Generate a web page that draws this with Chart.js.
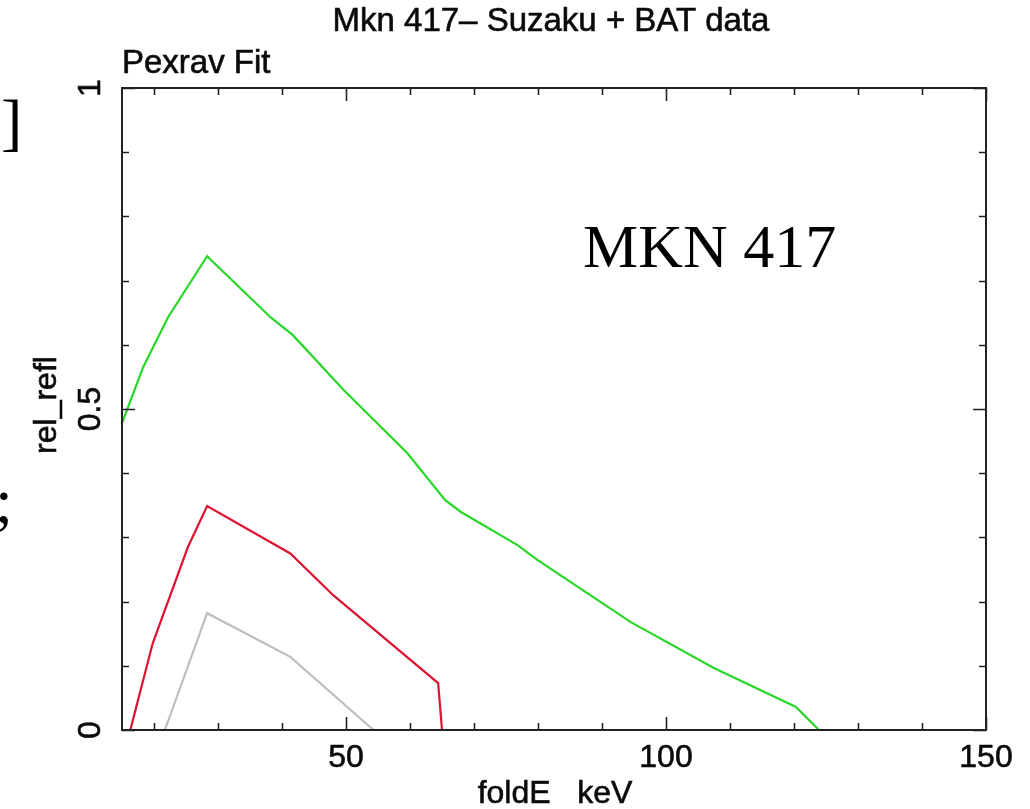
<!DOCTYPE html>
<html>
<head>
<meta charset="utf-8">
<title>Mkn 417 - Suzaku + BAT data</title>
<script src="https://cdn.jsdelivr.net/npm/chart.js@4"></script>
<style>
  html, body { margin: 0; padding: 0; background: #ffffff; }
  #wrap { width: 1030px; height: 809px; position: relative; }
</style>
</head>
<body>
<div id="wrap"><canvas id="c" width="1030" height="809"></canvas></div>
<script>
// Contours of rel_refl versus fold energy (keV)
const greenE = [15, 18.3, 22.2, 28.3, 38.2, 41.7, 49.6, 59.6, 65.5, 67.9, 76.8, 79.9, 94.5, 107.4, 120.3, 123.9];
const greenR = [0.478, 0.565, 0.643, 0.738, 0.643, 0.615, 0.530, 0.431, 0.358, 0.340, 0.288, 0.265, 0.168, 0.097, 0.036, 0];

const redE = [16.3, 19.8, 25.3, 28.3, 41.3, 48.0, 64.4, 65.0];
const redR = [0, 0.135, 0.285, 0.349, 0.275, 0.210, 0.073, 0];

const grayE = [21.7, 28.3, 41.3, 54.3];
const grayR = [0, 0.182, 0.114, 0];

// Axis ticks
const xMajorTicks = [50, 100, 150];
const xMinorTicks = [20, 30, 40, 60, 70, 80, 90, 110, 120, 130, 140];
const yMajorTicks = [0, 0.5, 1];
const yMinorTicks = [0.1, 0.2, 0.3, 0.4, 0.6, 0.7, 0.8, 0.9];
const xTickLabels = ['50', '100', '150'];
const yTickLabels = ['0', '0.5', '1'];

const titleText = 'Mkn 417\u2013 Suzaku + BAT data';
const subTitleText = 'Pexrav Fit';
const xTitle = 'foldE   keV';
const yTitle = 'rel_refl';
const noteText = 'MKN 417';

const SANS = '"Liberation Sans", Arial, Helvetica, sans-serif';
const SERIF = '"Liberation Serif", "Times New Roman", serif';

function pts(xs, ys) { return xs.map((x, i) => ({ x: x, y: ys[i] })); }

// filled text with a thin outline so the sans labels read slightly heavier
function heavyText(ctx, s, x, y) {
  ctx.fillText(s, x, y);
  ctx.strokeText(s, x, y);
}

const framePlugin = {
  id: 'frame',
  afterDraw(chart) {
    const ctx = chart.ctx;
    const a = chart.chartArea;
    const xs = chart.scales.x, ys = chart.scales.y;
    ctx.save();

    // box
    ctx.strokeStyle = '#222222';
    ctx.lineWidth = 2;
    ctx.strokeRect(a.left, a.top, a.right - a.left, a.bottom - a.top);

    // ticks on all four sides (inward)
    ctx.lineWidth = 1.6;
    const tickX = (v, len) => {
      const px = Math.round(xs.getPixelForValue(v)) + 0.5;
      ctx.beginPath();
      ctx.moveTo(px, a.bottom); ctx.lineTo(px, a.bottom - len);
      ctx.moveTo(px, a.top); ctx.lineTo(px, a.top + len);
      ctx.stroke();
    };
    const tickY = (v, len) => {
      const py = Math.round(ys.getPixelForValue(v)) + 0.5;
      ctx.beginPath();
      ctx.moveTo(a.left, py); ctx.lineTo(a.left + len, py);
      ctx.moveTo(a.right, py); ctx.lineTo(a.right - len, py);
      ctx.stroke();
    };
    xMajorTicks.forEach(v => tickX(v, 13));
    xMinorTicks.forEach(v => tickX(v, 7));
    yMajorTicks.forEach(v => tickY(v, 13));
    yMinorTicks.forEach(v => tickY(v, 7));

    // tick labels
    ctx.fillStyle = '#0a0a0a';
    ctx.strokeStyle = '#0a0a0a';
    ctx.lineWidth = 0.6;
    ctx.font = '32px ' + SANS;
    ctx.textAlign = 'center';
    ctx.textBaseline = 'alphabetic';
    xMajorTicks.forEach((v, i) => {
      heavyText(ctx, xTickLabels[i], xs.getPixelForValue(v), a.bottom + 37);
    });
    yMajorTicks.forEach((v, i) => {
      ctx.save();
      ctx.translate(a.left - 22, ys.getPixelForValue(v));
      ctx.rotate(-Math.PI / 2);
      heavyText(ctx, yTickLabels[i], 0, 0);
      ctx.restore();
    });

    // axis titles
    ctx.font = '32px ' + SANS;
    heavyText(ctx, xTitle, 555, a.bottom + 73);
    ctx.save();
    ctx.translate(56, ys.getPixelForValue(0.5) - 4);
    ctx.rotate(-Math.PI / 2);
    heavyText(ctx, yTitle, 0, 0);
    ctx.restore();

    // titles
    ctx.font = '33px ' + SANS;
    heavyText(ctx, titleText, 551, 31);
    ctx.textAlign = 'left';
    heavyText(ctx, subTitleText, a.left, 73);

    // annotation
    ctx.font = '62px ' + SERIF;
    ctx.fillStyle = '#000000';
    ctx.fillText(noteText, 583, 267);

    // glyphs at the left margin
    ctx.font = '64px ' + SERIF;
    ctx.fillText(']', 1, 143);
    ctx.fillText(';', -5, 522);

    ctx.restore();
  }
};

new Chart(document.getElementById('c'), {
  type: 'scatter',
  data: {
    datasets: [
      { label: 'green', data: pts(greenE, greenR), borderColor: 'rgb(40,215,40)' },
      { label: 'red', data: pts(redE, redR), borderColor: 'rgb(220,20,50)' },
      { label: 'gray', data: pts(grayE, grayR), borderColor: 'rgb(190,190,190)' }
    ].map(d => Object.assign(d, { showLine: true, pointRadius: 0, borderWidth: 2.2, tension: 0, fill: false }))
  },
  options: {
    responsive: false,
    animation: false,
    layout: { padding: { left: 122, top: 88, right: 44, bottom: 79 } },
    plugins: { legend: { display: false }, tooltip: { enabled: false } },
    scales: {
      x: { type: 'linear', min: 15, max: 150, display: false },
      y: { type: 'linear', min: 0, max: 1, display: false }
    }
  },
  plugins: [framePlugin]
});
</script>
</body>
</html>
